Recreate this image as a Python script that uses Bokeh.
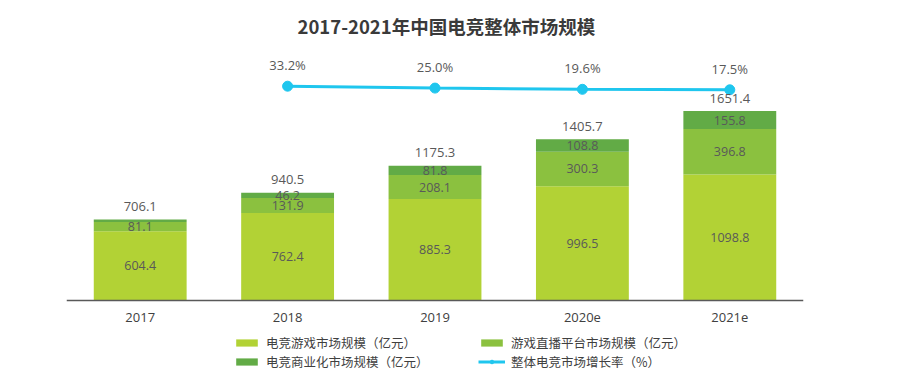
from bokeh.plotting import figure
from bokeh.models import ColumnDataSource, FactorRange, Range1d, Legend, LegendItem, Span
from bokeh.core.properties import value
from bokeh.embed import file_html
from bokeh.resources import INLINE

# ---- data ----
years = ["2017", "2018", "2019", "2020e", "2021e"]
game = [604.4, 762.4, 885.3, 996.5, 1098.8]          # 电竞游戏市场规模
live = [81.1, 131.9, 208.1, 300.3, 396.8]            # 游戏直播平台市场规模
commerce = [20.6, 46.2, 81.8, 108.8, 155.8]          # 电竞商业化市场规模
commerce_labels = ["", "46.2", "81.8", "108.8", "155.8"]
totals = [706.1, 940.5, 1175.3, 1405.7, 1651.4]
growth_years = ["2018", "2019", "2020e", "2021e"]
growth = [33.2, 25.0, 19.6, 17.5]                    # 整体电竞市场增长率 (%)
series_names = ["电竞游戏市场规模（亿元）", "游戏直播平台市场规模（亿元）",
                "电竞商业化市场规模（亿元）", "整体电竞市场增长率（%）"]
title_text = "2017-2021年中国电竞整体市场规模"

colors = ["#b2d235", "#8bc13f", "#62ab46"]
line_color = "#1fc6ee"
text_color = "#595959"
num_font = value("Open Sans")
cjk_font = "Noto Sans CJK SC"

src = ColumnDataSource(dict(
    years=years, game=game, live=live, commerce=commerce,
    totals=totals, zero=[0] * len(years),
    game_lbl=[f"{v:.1f}" for v in game],
    live_lbl=[f"{v:.1f}" for v in live],
    com_lbl=commerce_labels,
    tot_lbl=[f"{v:.1f}" for v in totals],
    game_mid=[g / 2 for g in game],
    live_mid=[g + l / 2 for g, l in zip(game, live)],
    com_mid=[g + l + c / 2 for g, l, c in zip(game, live, commerce)],
))
gsrc = ColumnDataSource(dict(years=growth_years, growth=growth,
                             lbl=[f"{v:.1f}%" for v in growth]))

p = figure(x_range=FactorRange(*years, range_padding=0),
           y_range=Range1d(-671.3, 2266.8),
           width=918, height=377,
           min_border_left=66, min_border_right=115,
           min_border_top=40, min_border_bottom=0,
           output_backend="svg", toolbar_location=None)
p.extra_y_ranges = {"pct": Range1d(-1237.2, 232.5)}

bars = p.vbar_stack(["game", "live", "commerce"], x="years", width=0.63,
                    color=colors, line_color=None, source=src)

line = p.line(x="years", y="growth", source=gsrc, y_range_name="pct",
              line_color=line_color, line_width=3)
dots = p.scatter(x="years", y="growth", source=gsrc, y_range_name="pct",
                 size=10, fill_color=line_color, line_color=line_color)

common = dict(text_align="center", text_baseline="middle", text_color=text_color,
              text_font=num_font)
p.text(x="years", y="game_mid", text="game_lbl", source=src, text_font_size="12.5px", **common)
p.text(x="years", y="live_mid", text="live_lbl", source=src, text_font_size="12.5px", **common)
p.text(x="years", y="com_mid", text="com_lbl", source=src, text_font_size="12.5px", **common)
p.text(x="years", y="totals", text="tot_lbl", source=src, text_font_size="13px",
       y_offset=-13, **common)
p.text(x="years", y="growth", text="lbl", source=gsrc, y_range_name="pct",
       text_font_size="13px", y_offset=-21, **common)

# category axis: baseline + category labels under the bars
p.xaxis.visible = False
p.yaxis.visible = False
p.add_layout(Span(location=0, dimension="width", line_color="#595959", line_width=1.5))
p.text(x="years", y="zero", text="years", source=src, text_font_size="13px",
       y_offset=17, text_align="center", text_baseline="middle",
       text_color="#404040", text_font=num_font)

p.xgrid.grid_line_color = None
p.ygrid.grid_line_color = None
p.outline_line_color = None

# title
p.title.text = title_text
p.title.text_font = cjk_font
p.title.text_font_style = "bold"
p.title.text_font_size = "18.5px"
p.title.text_color = "#3a3a3a"
p.title.align = "left"
p.title.offset = 231
p.title.standoff = 0
p.title.vertical_align = "top"

# legends: two columns
def make_legend(items, x):
    return Legend(items=items, location=(x, 6.5), orientation="vertical",
                  border_line_color=None, background_fill_alpha=0,
                  padding=0, margin=0, spacing=0,
                  glyph_width=27, glyph_height=9, label_height=13,
                  label_standoff=6, label_text_font=cjk_font,
                  label_text_font_size="12.5px", label_text_color="#404040")

lg1 = make_legend([LegendItem(label=series_names[0], renderers=[bars[0]]),
                   LegendItem(label=series_names[2], renderers=[bars[2]])], 167)
lg2 = make_legend([LegendItem(label=series_names[1], renderers=[bars[1]]),
                   LegendItem(label=series_names[3], renderers=[line, dots])], 412)
p.add_layout(lg1, "center")
p.add_layout(lg2, "center")

open("out.html", "w").write(file_html(p, INLINE))
